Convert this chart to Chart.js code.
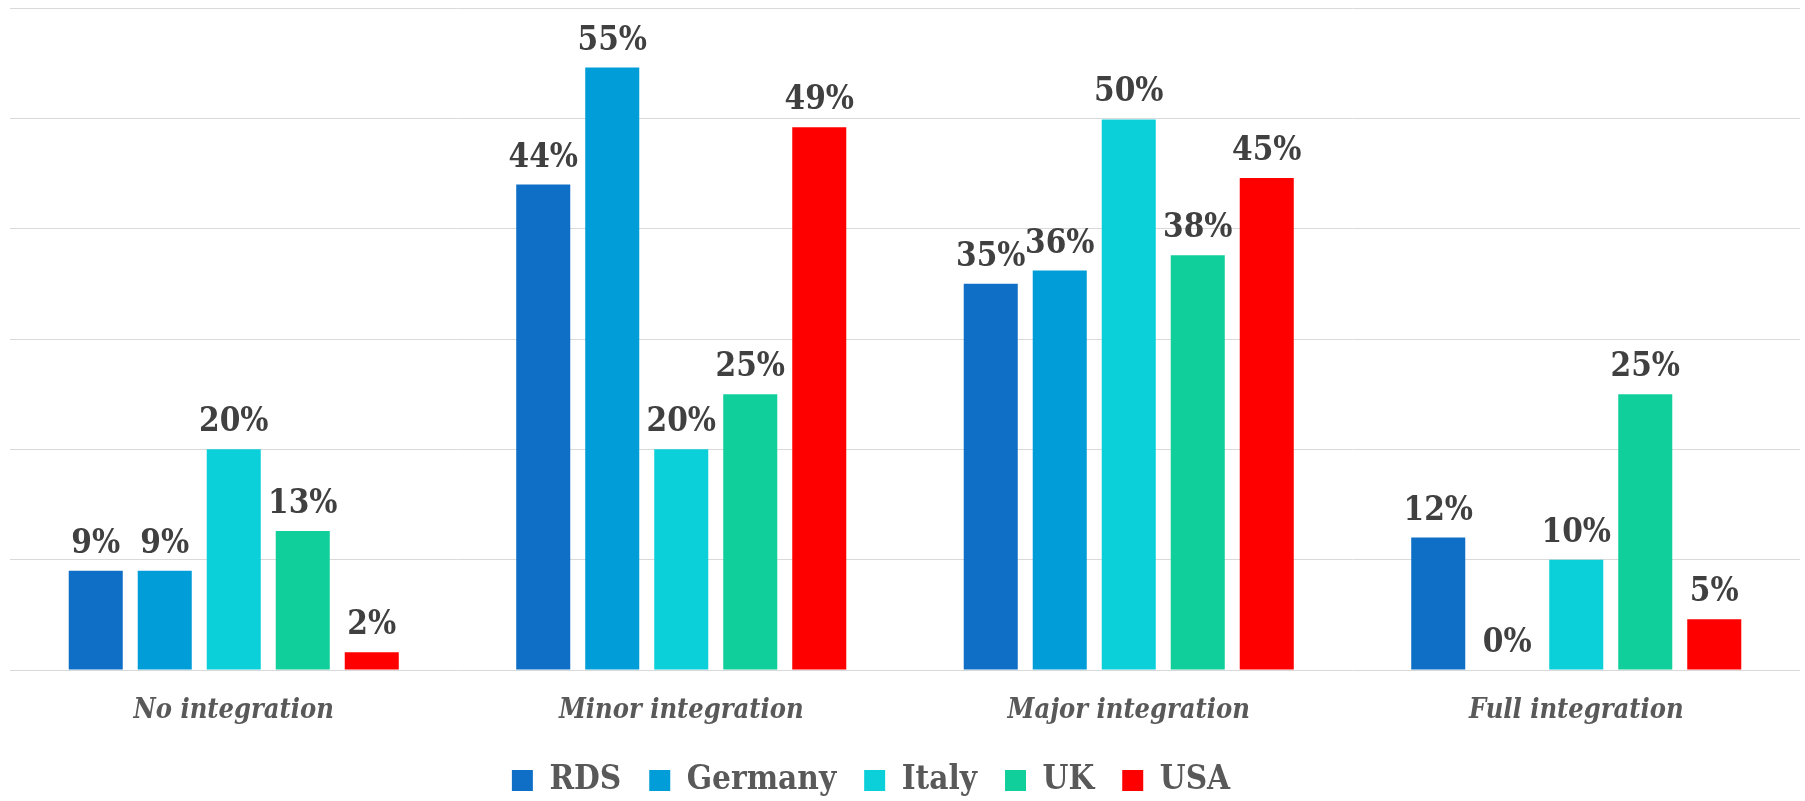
<!DOCTYPE html>
<html>
<head>
<meta charset="utf-8">
<script src="https://cdn.jsdelivr.net/npm/chart.js@4/dist/chart.umd.min.js"></script>
<style>
  html, body { margin: 0; padding: 0; background: #ffffff; }
  #wrap { width: 1805px; height: 801px; position: relative; }
</style>
</head>
<body>
<div id="wrap"><canvas id="c" width="1805" height="801"></canvas></div>
<script>
const categories = ['No integration', 'Minor integration', 'Major integration', 'Full integration'];
const seriesNames = ['RDS', 'Germany', 'Italy', 'UK', 'USA'];
const rdsValues = [9, 44, 35, 12];
const germanyValues = [9, 54.6, 36.2, 0];
const italyValues = [20, 20, 49.9, 10];
const ukValues = [12.6, 25, 37.6, 25];
const usaValues = [1.6, 49.2, 44.6, 4.6];
const yTicks = [0, 10, 20, 30, 40, 50, 60];

const colors = ['#0F6FC6', '#009DD9', '#0BD0D9', '#10CF9B', '#FF0000'];
const allValues = [rdsValues, germanyValues, italyValues, ukValues, usaValues];
const FAMILY = "'DejaVu Serif Condensed', 'DejaVu Serif', serif";

const valueLabels = {
  id: 'valueLabels',
  afterDatasetsDraw(chart) {
    const ctx = chart.ctx;
    ctx.save();
    ctx.font = "bold 33px " + FAMILY;
    ctx.fillStyle = '#404040';
    ctx.textAlign = 'center';
    ctx.textBaseline = 'alphabetic';
    chart.data.datasets.forEach((ds, i) => {
      const meta = chart.getDatasetMeta(i);
      meta.data.forEach((el, j) => {
        const v = ds.data[j];
        ctx.fillText(Math.round(v) + '%', el.x, el.y - 18);
      });
    });
    ctx.restore();
  }
};

const legendTweak = {
  id: 'legendTweak',
  beforeInit(chart) {
    const lg = chart.legend;
    if (lg && !lg._tweaked) {
      const origFit = lg.fit.bind(lg);
      lg.fit = function () { origFit(); this.height = 65; };
      lg._tweaked = true;
    }
  },
  afterLayout(chart) {
    const lg = chart.legend;
    if (lg) { lg.left -= 34; lg.right -= 34; }
  }
};

new Chart(document.getElementById('c'), {
  type: 'bar',
  data: {
    labels: categories,
    datasets: seriesNames.map((name, i) => ({
      label: name,
      data: allValues[i],
      backgroundColor: colors[i],
      borderWidth: 0,
      categoryPercentage: 0.771,
      barPercentage: 0.783
    }))
  },
  options: {
    responsive: false,
    animation: false,
    devicePixelRatio: 1,
    layout: { padding: { top: 8, left: 10, right: 5, bottom: 0 } },
    plugins: {
      legend: {
        position: 'bottom',
        labels: {
          boxWidth: 21,
          boxHeight: 21,
          padding: 28,
          color: '#595959',
          font: { family: FAMILY, size: 33, weight: 'bold' }
        }
      },
      tooltip: { enabled: false }
    },
    scales: {
      x: {
        grid: { display: false, drawTicks: false },
        border: { display: false },
        afterFit(scale) { scale.height = 66; },
        ticks: {
          color: '#595959',
          padding: 25,
          font: { family: FAMILY, size: 27, weight: 'bold', style: 'italic' }
        }
      },
      y: {
        min: yTicks[0],
        max: yTicks[yTicks.length - 1],
        afterBuildTicks(scale) { scale.ticks = yTicks.map(v => ({ value: v })); },
        grid: { color: '#D9D9D9', lineWidth: 1, drawTicks: false },
        border: { display: false },
        ticks: { display: false }
      }
    }
  },
  plugins: [valueLabels, legendTweak]
});
</script>
</body>
</html>
